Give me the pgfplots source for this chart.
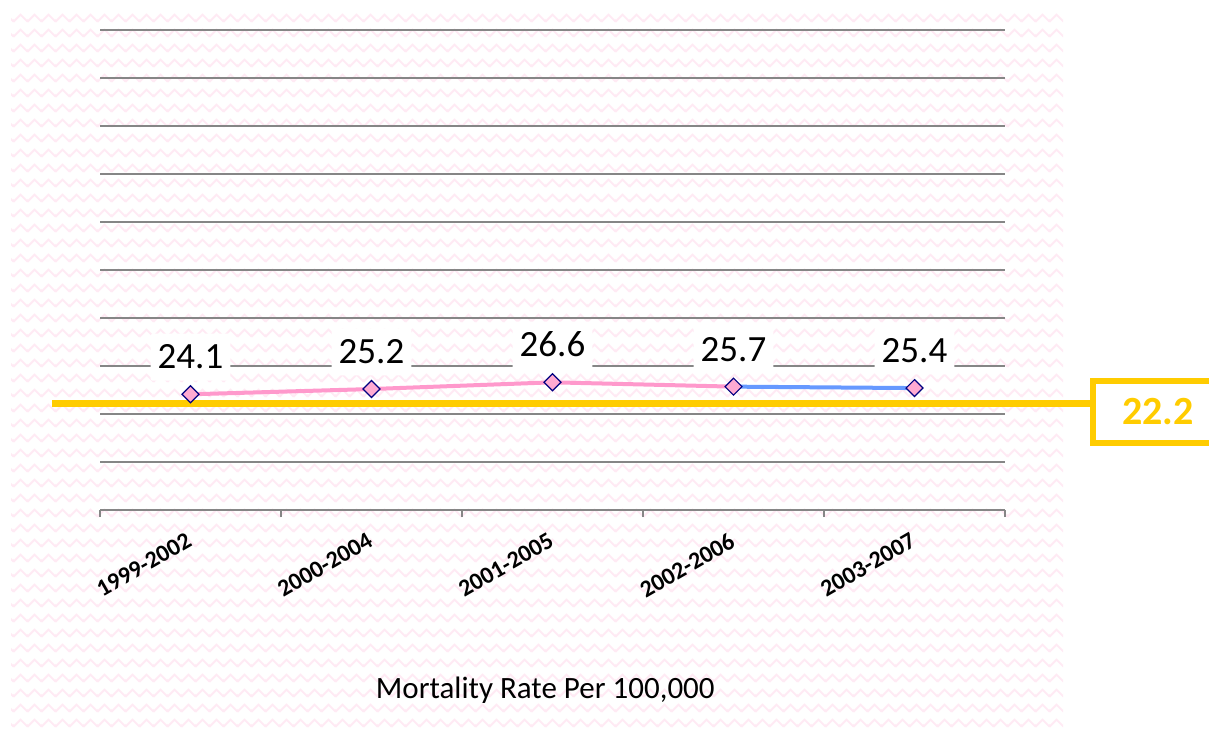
\documentclass[border=0pt]{standalone}
\usepackage{fontspec}
\setmainfont{Carlito}
\usepackage{pgfplots}
\pgfplotsset{compat=1.18}
\usetikzlibrary{patterns.meta}

\definecolor{zzpink}{RGB}{255,234,244}
\definecolor{gridgray}{RGB}{134,134,134}
\definecolor{linepink}{RGB}{255,153,204}
\definecolor{lineblue}{RGB}{102,153,255}
\definecolor{markfill}{RGB}{255,170,210}
\definecolor{navy}{RGB}{0,0,128}
\definecolor{goldline}{RGB}{255,204,0}

\tikzdeclarepattern{
  name=zigzag,
  type=uncolored,
  bounding box={(0pt,0pt) and (14pt,15pt)},
  tile size={(14pt,15pt)},
  code={
    \draw[line width=2pt] (-7pt,11pt) -- (0pt,4pt) -- (7pt,11pt) -- (14pt,4pt) -- (21pt,11pt);
  }
}

\begin{document}
\begin{tikzpicture}[x=1pt,y=1pt]
\useasboundingbox (0,0) rectangle (1209,729);
\fill[white] (0,0) rectangle (1209,729);
\fill[pattern=zigzag, pattern color=zzpink] (11,0) rectangle (1063,719);
\begin{axis}[
    at={(100pt,219pt)}, anchor=south west,
    scale only axis, width=905pt, height=480pt,
    xmin=-0.5, xmax=4.5, ymin=0, ymax=100,
    clip=false,
    axis x line*=bottom, axis y line*=left,
    x axis line style={draw=gridgray, line width=1.6pt},
    y axis line style={draw=none},
    xtick={0,1,2,3,4},
    xticklabels={1999-2002,2000-2004,2001-2005,2002-2006,2003-2007},
    minor xtick={-0.5,0.5,1.5,2.5,3.5,4.5},
    ytick={0,10,...,100}, yticklabels={},
    major tick length=0pt, minor tick length=7pt,
    tick align=outside,
    minor tick style={draw=gridgray, line width=1.6pt},
    ymajorgrids=true,
    major grid style={draw=gridgray, line width=1.4pt},
    xticklabel style={xshift=-4pt, yshift=-17pt, rotate=30, anchor=north east,
        font=\bfseries\fontsize{24}{24}\selectfont},
    xlabel={Mortality Rate Per 100,000},
    xlabel style={at={(axis description cs:0.492,-0.375)}, anchor=center,
        font=\fontsize{31}{31}\selectfont},
    /pgf/number format/assume math mode=true,
]
% reference value
\addplot[goldline, line width=6.5pt] coordinates {(-0.765,22.2) (4.99,22.2)};
% pink segment
\addplot[linepink, line width=4pt, no marks] coordinates {
    (0,24.1) (1,25.2) (2,26.6) (3,25.7)
};
% blue segment
\addplot[lineblue, line width=4pt, no marks] coordinates {
    (3,25.7) (4,25.4)
};
% markers with labels
\addplot[only marks, mark=square*, mark size=6pt,
    mark options={rotate=45, rounded corners=1.5pt, fill=markfill, draw=navy, line width=1.2pt},
    nodes near coords={\pgfmathprintnumber[fixed,precision=1,zerofill]{\pgfplotspointmeta}},
    nodes near coords style={anchor=south, yshift=13pt, fill=white, text=black,
        inner xsep=7pt, inner ysep=12pt, text height=23pt, text depth=0pt,
        font=\fontsize{37}{37}\selectfont}]
    coordinates {
    (0,24.1) (1,25.2) (2,26.6) (3,25.7) (4,25.4)
};
\draw[goldline, line width=6pt, fill=white]
    (axis cs:4.986,13.96) rectangle (axis cs:5.8,26.9);
\node[text=goldline, font=\bfseries\fontsize{40}{40}\selectfont]
    at (axis cs:5.345,20.6) {22.2};
\end{axis}
\end{tikzpicture}
\end{document}
